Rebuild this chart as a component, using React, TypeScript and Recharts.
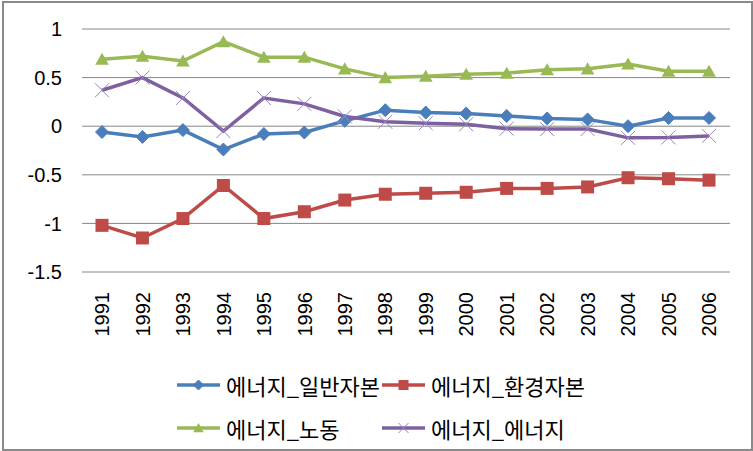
import React from 'react';
import { LineChart, Line, XAxis, YAxis, CartesianGrid } from 'recharts';

const years = ['1991', '1992', '1993', '1994', '1995', '1996', '1997', '1998', '1999', '2000', '2001', '2002', '2003', '2004', '2005', '2006'];
const generalCapital = [-0.06, -0.11, -0.04, -0.24, -0.08, -0.065, 0.055, 0.165, 0.14, 0.13, 0.105, 0.08, 0.07, 0.0, 0.085, 0.085];
const envCapital = [-1.02, -1.15, -0.95, -0.61, -0.95, -0.88, -0.76, -0.7, -0.69, -0.68, -0.64, -0.64, -0.625, -0.53, -0.54, -0.555];
const labor = [0.69, 0.72, 0.67, 0.87, 0.71, 0.71, 0.59, 0.5, 0.515, 0.535, 0.545, 0.58, 0.59, 0.64, 0.565, 0.565];
const energy = [0.37, 0.5, 0.29, -0.05, 0.29, 0.23, 0.1, 0.045, 0.03, 0.02, -0.025, -0.03, -0.03, -0.12, -0.115, -0.1];
const yTicks = [-1.5, -1, -0.5, 0, 0.5, 1];

const series = [
  { key: 'general', name: '에너지_일반자본', color: '#4a7ebb', marker: 'diamond' },
  { key: 'env', name: '에너지_환경자본', color: '#be4b48', marker: 'square' },
  { key: 'labor', name: '에너지_노동', color: '#98b954', marker: 'triangle' },
  { key: 'energy', name: '에너지_에너지', color: '#7d60a0', marker: 'cross' },
];

const data = years.map((y, i) => ({
  year: y,
  general: generalCapital[i],
  env: envCapital[i],
  labor: labor[i],
  energy: energy[i],
}));

const font = '"Liberation Sans", Arial, sans-serif';

function markerShape(kind: string, cx: number, cy: number, color: string, s: number) {
  if (kind === 'diamond') {
    return <path d={`M${cx},${cy - s}L${cx + s},${cy}L${cx},${cy + s}L${cx - s},${cy}Z`} fill={color} stroke={color} strokeWidth={1} />;
  }
  if (kind === 'square') {
    return <rect x={cx - s} y={cy - s} width={s * 2} height={s * 2} fill={color} />;
  }
  if (kind === 'triangle') {
    return <path d={`M${cx},${cy - s}L${cx + s * 1.05},${cy + s * 0.85}L${cx - s * 1.05},${cy + s * 0.85}Z`} fill={color} />;
  }
  return (
    <path d={`M${cx - s},${cy - s}L${cx + s},${cy + s}M${cx - s},${cy + s}L${cx + s},${cy - s}`} stroke="#9a86c0" strokeWidth={1} fill="none" />
  );
}

const makeDot = (kind: string, color: string) => (props: any) => {
  const { cx, cy, index } = props;
  if (cx == null || cy == null) return <g key={index} />;
  const size = kind === 'cross' ? 7 : 6.5;
  return <g key={index}>{markerShape(kind, cx, cy, color, size)}</g>;
};

const XTick = (props: any) => {
  const { x, y, payload } = props;
  return (
    <text x={x} y={y} transform={`rotate(-90, ${x}, ${y})`} textAnchor="end" dy="0.36em" fontSize={20} fontFamily={font} fill="#000">
      {payload.value}
    </text>
  );
};

const YTick = (props: any) => {
  const { x, y, payload } = props;
  return (
    <text x={x} y={y} textAnchor="end" dy="0.36em" fontSize={20} fontFamily={font} fill="#000">
      {payload.value}
    </text>
  );
};

const LegendItem = ({ s }: { s: (typeof series)[number] }) => (
  <div style={{ display: 'flex', alignItems: 'center', height: 30, whiteSpace: 'nowrap' }}>
    <svg width={46} height={20} style={{ marginRight: 4, flexShrink: 0 }}>
      <line x1={1} y1={10} x2={44} y2={10} stroke={s.color} strokeWidth={3.5} />
      {markerShape(s.marker, 22.5, 10, s.color, 5)}
    </svg>
    <span style={{ fontFamily: '"Noto Sans CJK KR", sans-serif', fontSize: 22, color: '#000', lineHeight: '30px' }}>{s.name}</span>
  </div>
);

export default function App() {
  return (
    <div style={{ position: 'absolute', left: 0, top: 0, width: 753, height: 451, background: '#fff' }}>
      <LineChart width={753} height={451} data={data} margin={{ top: 29, right: 23, left: 22, bottom: 99 }}>
        <CartesianGrid vertical={false} stroke="#868686" strokeWidth={1} />
        <XAxis
          dataKey="year"
          axisLine={false}
          tickLine={false}
          tickSize={0}
          tickMargin={20}
          height={80}
          interval={0}
          padding={{ left: 20, right: 21 }}
          tick={<XTick />}
        />
        <YAxis domain={[-1.5, 1]} ticks={yTicks} axisLine={false} tickLine={false} tickSize={0} tickMargin={20} width={60} tick={<YTick />} />
        {series.map((s) => (
          <Line
            key={s.key}
            dataKey={s.key}
            name={s.name}
            type="linear"
            stroke={s.color}
            strokeWidth={3.5}
            dot={makeDot(s.marker, s.color)}
            activeDot={false}
            isAnimationActive={false}
          />
        ))}
      </LineChart>
      <div style={{ position: 'absolute', left: 176, top: 370, display: 'grid', gridTemplateColumns: '205px 205px', rowGap: 13 }}>
        {series.map((s) => (
          <LegendItem key={s.key} s={s} />
        ))}
      </div>
      <div style={{ position: 'absolute', left: 2, top: 1, width: 751, height: 450, border: '2px solid #8a8a8a', boxSizing: 'border-box', pointerEvents: 'none' }} />
    </div>
  );
}
